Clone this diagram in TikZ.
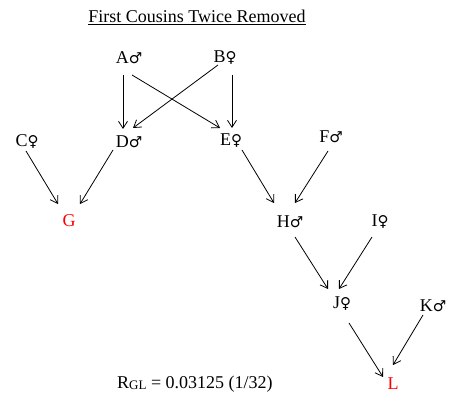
\documentclass[tikz,border=0pt]{standalone}
\usepackage{fontspec}
\setmainfont{Liberation Serif}
\newfontfamily\symfont{DejaVu Sans}
\usetikzlibrary{arrows.meta,calc}
\newcommand\gmale{{\symfont\fontsize{15}{15}\selectfont ♂}}
\newcommand\gfemale{{\symfont\fontsize{15}{15}\selectfont ♀}}
\begin{document}
\begin{tikzpicture}[x=1pt,y=-1pt,
  lbl/.style={inner sep=0pt,font=\fontsize{18}{18}\selectfont},
  red lbl/.style={lbl,text=red},
  arr/.style={line width=0.8pt,-{Straight Barb[length=7pt,width=9pt,line width=0.8pt]}}]
\useasboundingbox[fill=white] (0,0) rectangle (453,411);
\node[inner sep=0pt,font=\fontsize{18}{18}\selectfont] (title) at (197,17) {\underline{First Cousins Twice Removed}};
\node[lbl] (A) at (129,58) {A\gmale};
\node[lbl] (B) at (225,58) {B\gfemale};
\node[lbl] (C) at (27,141) {C\gfemale};
\node[lbl] (D) at (129,142) {D\gmale};
\node[lbl] (E) at (231,141) {E\gfemale};
\node[lbl] (F) at (331,137) {F\gmale};
\node[red lbl] (G) at (69,221) {G};
\node[lbl] (H) at (290,222) {H\gmale};
\node[lbl] (I) at (380,222) {I\gfemale};
\node[lbl] (J) at (342,304) {J\gfemale};
\node[lbl] (K) at (433,306) {K\gmale};
\node[red lbl] (L) at (393,384) {L};
\node[inner sep=0pt,anchor=west,font=\fontsize{18}{18}\selectfont] (R) at (117,384) {R{\fontsize{13}{13}\selectfont\raisebox{-1.5pt}{GL}} = 0.03125 (1/32)};
\draw[arr] ($(A)+(-6,17)$) -- ($(D)+(-6,-13)$);
\draw[arr] ($(A)+(3,17)$) -- ($(E)+(-11,-13)$);
\draw[arr] ($(B)+(-7,7)$) -- ($(D)+(4,-14)$);
\draw[arr] ($(B)+(7,17)$) -- ($(E)+(1,-13)$);
\draw[arr] ($(C)+(-1,10)$) -- ($(G)+(-11,-17)$);
\draw[arr] ($(D)+(-16,8)$) -- ($(G)+(11,-17)$);
\draw[arr] ($(E)+(11,9)$) -- ($(H)+(-16,-19)$);
\draw[arr] ($(F)+(-3,14)$) -- ($(H)+(5,-19)$);
\draw[arr] ($(H)+(5,15)$) -- ($(J)+(-14,-15)$);
\draw[arr] ($(I)+(-8,15)$) -- ($(J)+(-3,-15)$);
\draw[arr] ($(J)+(7,19)$) -- ($(L)+(-10,-7)$);
\draw[arr] ($(K)+(-10,9)$) -- ($(L)+(0,-19)$);
\end{tikzpicture}
\end{document}
